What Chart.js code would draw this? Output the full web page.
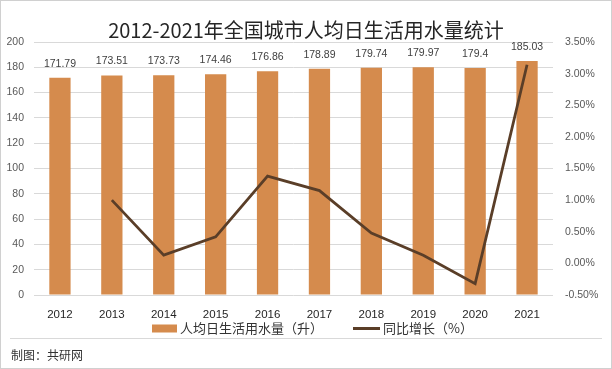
<!DOCTYPE html>
<html>
<head>
<meta charset="utf-8">
<script src="https://cdn.jsdelivr.net/npm/chart.js@4/dist/chart.umd.min.js"></script>
<style>
  html, body { margin: 0; padding: 0; background: #ffffff; }
  #wrap { position: relative; width: 612px; height: 369px; }
  canvas { display: block; }
</style>
</head>
<body>
<div id="wrap"><canvas id="c" width="612" height="369"></canvas></div>
<script>
// ---- data ----
const titleText = '2012-2021年全国城市人均日生活用水量统计';
const years = ['2012', '2013', '2014', '2015', '2016', '2017', '2018', '2019', '2020', '2021'];
const waterUse = [171.79, 173.51, 173.73, 174.46, 176.86, 178.89, 179.74, 179.97, 179.4, 185.03];
const growthPct = [null, 1.00, 0.13, 0.42, 1.38, 1.15, 0.48, 0.13, -0.32, 3.14];
const leftTicks = [0, 20, 40, 60, 80, 100, 120, 140, 160, 180, 200];
const rightTicks = [-0.5, 0, 0.5, 1.0, 1.5, 2.0, 2.5, 3.0, 3.5];
const barLabel = '人均日生活用水量（升）';
const lineLabel = '同比增长（%）';
const footerText = '制图：共研网';

const BAR_COLOR = '#D58B4D';
const LINE_COLOR = '#5A3E28';
const NUM_FONT = '"Liberation Sans", Arial, sans-serif';
const CJK_FONT = '"Noto Sans CJK SC", "Noto Sans", sans-serif';

const decorPlugin = {
  id: 'decor',
  beforeDraw(chart) {
    const ctx = chart.ctx;
    ctx.save();
    ctx.fillStyle = '#ffffff';
    ctx.fillRect(0, 0, chart.width, chart.height);
    ctx.restore();
  },
  afterDatasetsDraw(chart) {
    const ctx = chart.ctx;
    // value labels above bars
    const meta = chart.getDatasetMeta(0);
    ctx.save();
    ctx.font = '10.5px ' + NUM_FONT;
    ctx.fillStyle = '#404040';
    ctx.textAlign = 'center';
    ctx.textBaseline = 'middle';
    meta.data.forEach((el, i) => {
      ctx.fillText(String(chart.data.datasets[0].data[i]), el.x, el.y - 14);
    });
    ctx.restore();
  },
  afterDraw(chart) {
    const ctx = chart.ctx;
    ctx.save();
    // title
    ctx.font = '20px ' + CJK_FONT;
    ctx.fillStyle = '#262626';
    ctx.textAlign = 'center';
    ctx.textBaseline = 'middle';
    ctx.fillText(titleText, 306, 30);

    // legend (from datasets)
    ctx.font = '13px ' + CJK_FONT;
    ctx.textAlign = 'left';
    ctx.textBaseline = 'middle';
    const ly = 328.5;
    const ds = chart.data.datasets;
    // bar item
    ctx.fillStyle = ds[0].backgroundColor;
    ctx.fillRect(152, ly - 4, 25, 8);
    ctx.fillStyle = '#333333';
    ctx.fillText(ds[0].label, 180, ly);
    // line item
    ctx.strokeStyle = ds[1].borderColor;
    ctx.lineWidth = 3;
    ctx.beginPath();
    ctx.moveTo(353, ly);
    ctx.lineTo(380, ly);
    ctx.stroke();
    ctx.fillStyle = '#333333';
    ctx.fillText(ds[1].label, 383, ly);

    // footer separator and text
    ctx.strokeStyle = '#d9d9d9';
    ctx.lineWidth = 1;
    ctx.beginPath();
    ctx.moveTo(10, 338.5);
    ctx.lineTo(602, 338.5);
    ctx.stroke();
    ctx.font = '12px ' + CJK_FONT;
    ctx.fillStyle = '#333333';
    ctx.fillText(footerText, 11, 355);

    // outer border
    ctx.strokeStyle = '#d0d0d0';
    ctx.strokeRect(0.5, 0.5, chart.width - 1, chart.height - 1);
    ctx.restore();
  }
};

new Chart(document.getElementById('c'), {
  data: {
    labels: years,
    datasets: [
      {
        type: 'bar',
        label: barLabel,
        data: waterUse,
        backgroundColor: BAR_COLOR,
        yAxisID: 'y',
        barPercentage: 0.41,
        categoryPercentage: 1.0,
        order: 2
      },
      {
        type: 'line',
        label: lineLabel,
        data: growthPct,
        borderColor: LINE_COLOR,
        backgroundColor: LINE_COLOR,
        borderWidth: 2.8,
        pointRadius: 0,
        tension: 0,
        spanGaps: false,
        yAxisID: 'y1',
        order: 1
      }
    ]
  },
  options: {
    responsive: false,
    animation: false,
    devicePixelRatio: 1,
    layout: { padding: { top: 42, left: 0, right: 0, bottom: 44 } },
    plugins: {
      legend: { display: false },
      title: { display: false },
      tooltip: { enabled: false }
    },
    scales: {
      x: {
        type: 'category',
        offset: true,
        grid: { display: false },
        border: { display: false },
        ticks: {
          padding: 5,
          color: '#262626',
          font: { family: NUM_FONT, size: 11.5 },
          maxRotation: 0
        },
        afterFit(scale) { scale.height = 30; }
      },
      y: {
        type: 'linear',
        position: 'left',
        min: 0,
        max: 200,
        afterBuildTicks(scale) { scale.ticks = leftTicks.map(v => ({ value: v })); },
        grid: { color: '#d9d9d9', lineWidth: 1, drawTicks: false },
        border: { display: false },
        ticks: {
          padding: 10,
          color: '#595959',
          font: { family: NUM_FONT, size: 10.5 }
        },
        afterFit(scale) { scale.width = 34; }
      },
      y1: {
        type: 'linear',
        position: 'right',
        min: -0.5,
        max: 3.5,
        afterBuildTicks(scale) { scale.ticks = rightTicks.map(v => ({ value: v })); },
        grid: { display: false, drawTicks: false },
        border: { display: false },
        ticks: {
          padding: 12,
          color: '#595959',
          font: { family: NUM_FONT, size: 10.5 },
          callback: v => Number(v).toFixed(2) + '%'
        },
        afterFit(scale) { scale.width = 59; }
      }
    }
  },
  plugins: [decorPlugin]
});
</script>
</body>
</html>
